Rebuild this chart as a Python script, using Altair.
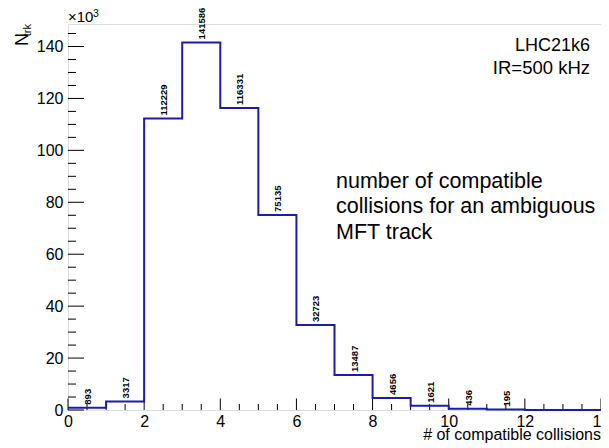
import altair as alt
import pandas as pd

# data
bin_lo = [0, 1, 2, 3, 4, 5, 6, 7, 8, 9, 10, 11, 12, 13]
counts = [893, 3317, 112229, 141586, 116331, 75135, 32723, 13487, 4656, 1621, 436, 195, 0, 0]

y_major = [0, 20000, 40000, 60000, 80000, 100000, 120000, 140000]
y_minor = [v * 5000 for v in range(0, 30) if v % 4 != 0]
x_major = [0, 2, 4, 6, 8, 10, 12, 14]
x_minor = [v * 0.5 for v in range(0, 29) if v % 4 != 0]

W, H = 533, 386
FONT = "Liberation Sans"
LINE = "#1c1ca8"
YMAX = 148665

xs = alt.Scale(domain=[0, 14], nice=False, zero=False)
ys = alt.Scale(domain=[0, YMAX], nice=False)

step_df = pd.DataFrame({"x": bin_lo + [14], "y": counts + [0]})
lab_df = pd.DataFrame({"xc": [b + 0.5 for b in bin_lo], "y": counts})
lab_df = lab_df[lab_df["y"] > 0]
lab_df["t"] = lab_df["y"].astype(str)

hist = alt.Chart(step_df).mark_line(interpolate="step-after", color=LINE, strokeWidth=2).encode(
    x=alt.X("x:Q", scale=xs, axis=alt.Axis(values=x_major, format="d", tickSize=0, domain=False, grid=False,
                                            labelFont=FONT, labelFontSize=16, labelColor="black",
                                            labelPadding=3, title=None, labelFlush=False)),
    y=alt.Y("y:Q", scale=ys, axis=alt.Axis(values=y_major, labelExpr="datum.value/1000", tickSize=0,
                                            domain=False, grid=False, labelFont=FONT, labelFontSize=16,
                                            labelColor="black", labelPadding=5, title=None)),
)

labels = alt.Chart(lab_df).mark_text(angle=270, align="left", baseline="middle", dx=3, dy=1,
                                     font=FONT, fontSize=9.5, fontWeight="bold", color="black").encode(
    x=alt.X("xc:Q", scale=xs), y=alt.Y("y:Q", scale=ys), text="t:N")

ymaj = alt.Chart(pd.DataFrame({"v": y_major})).mark_rule(color="black", strokeWidth=1).encode(
    y=alt.Y("v:Q", scale=ys), x=alt.value(0), x2=alt.value(16))
ymin = alt.Chart(pd.DataFrame({"v": y_minor})).mark_rule(color="black", strokeWidth=1).encode(
    y=alt.Y("v:Q", scale=ys), x=alt.value(0), x2=alt.value(8))
xmaj = alt.Chart(pd.DataFrame({"v": x_major})).mark_rule(color="black", strokeWidth=1).encode(
    x=alt.X("v:Q", scale=xs), y=alt.value(H), y2=alt.value(H - 11.5))
xmin = alt.Chart(pd.DataFrame({"v": x_minor})).mark_rule(color="black", strokeWidth=1).encode(
    x=alt.X("v:Q", scale=xs), y=alt.value(H), y2=alt.value(H - 6))

def txt(s, x, y, size, align="left", angle=0, baseline="alphabetic"):
    return alt.Chart(pd.DataFrame({"t": [s]})).mark_text(
        align=align, baseline=baseline, angle=angle, font=FONT, fontSize=size, color="black"
    ).encode(text="t:N", x=alt.value(x), y=alt.value(y))

ann = [
    txt("number of compatible", 268, 164, 21.5),
    txt("collisions for an ambiguous", 268, 189, 21.5),
    txt("MFT track", 268, 215, 21.5),
    txt("LHC21k6", 522, 27, 18, align="right"),
    txt("IR=500 kHz", 522, 50, 18.5, align="right"),
    txt("# of compatible collisions", W, H + 30, 16, align="right"),
    txt("×10", 0, -2, 15),
    txt("3", 25, -7, 10.5),
    txt("N", -40, 9, 18, align="right", angle=270),
    txt("trk", -37, 0, 11, align="right", angle=270),
]

chart = alt.layer(ymin, ymaj, xmin, xmaj, hist, labels, *ann).properties(
    width=W, height=H,
    autosize=alt.AutoSizeParams(type="none"),
    padding={"left": 60, "top": 16, "right": 0, "bottom": 34},
).configure_view(stroke="black", strokeWidth=1.2).configure(background="white")

chart.save("out.html", embed_options={"renderer": "svg", "actions": False})
